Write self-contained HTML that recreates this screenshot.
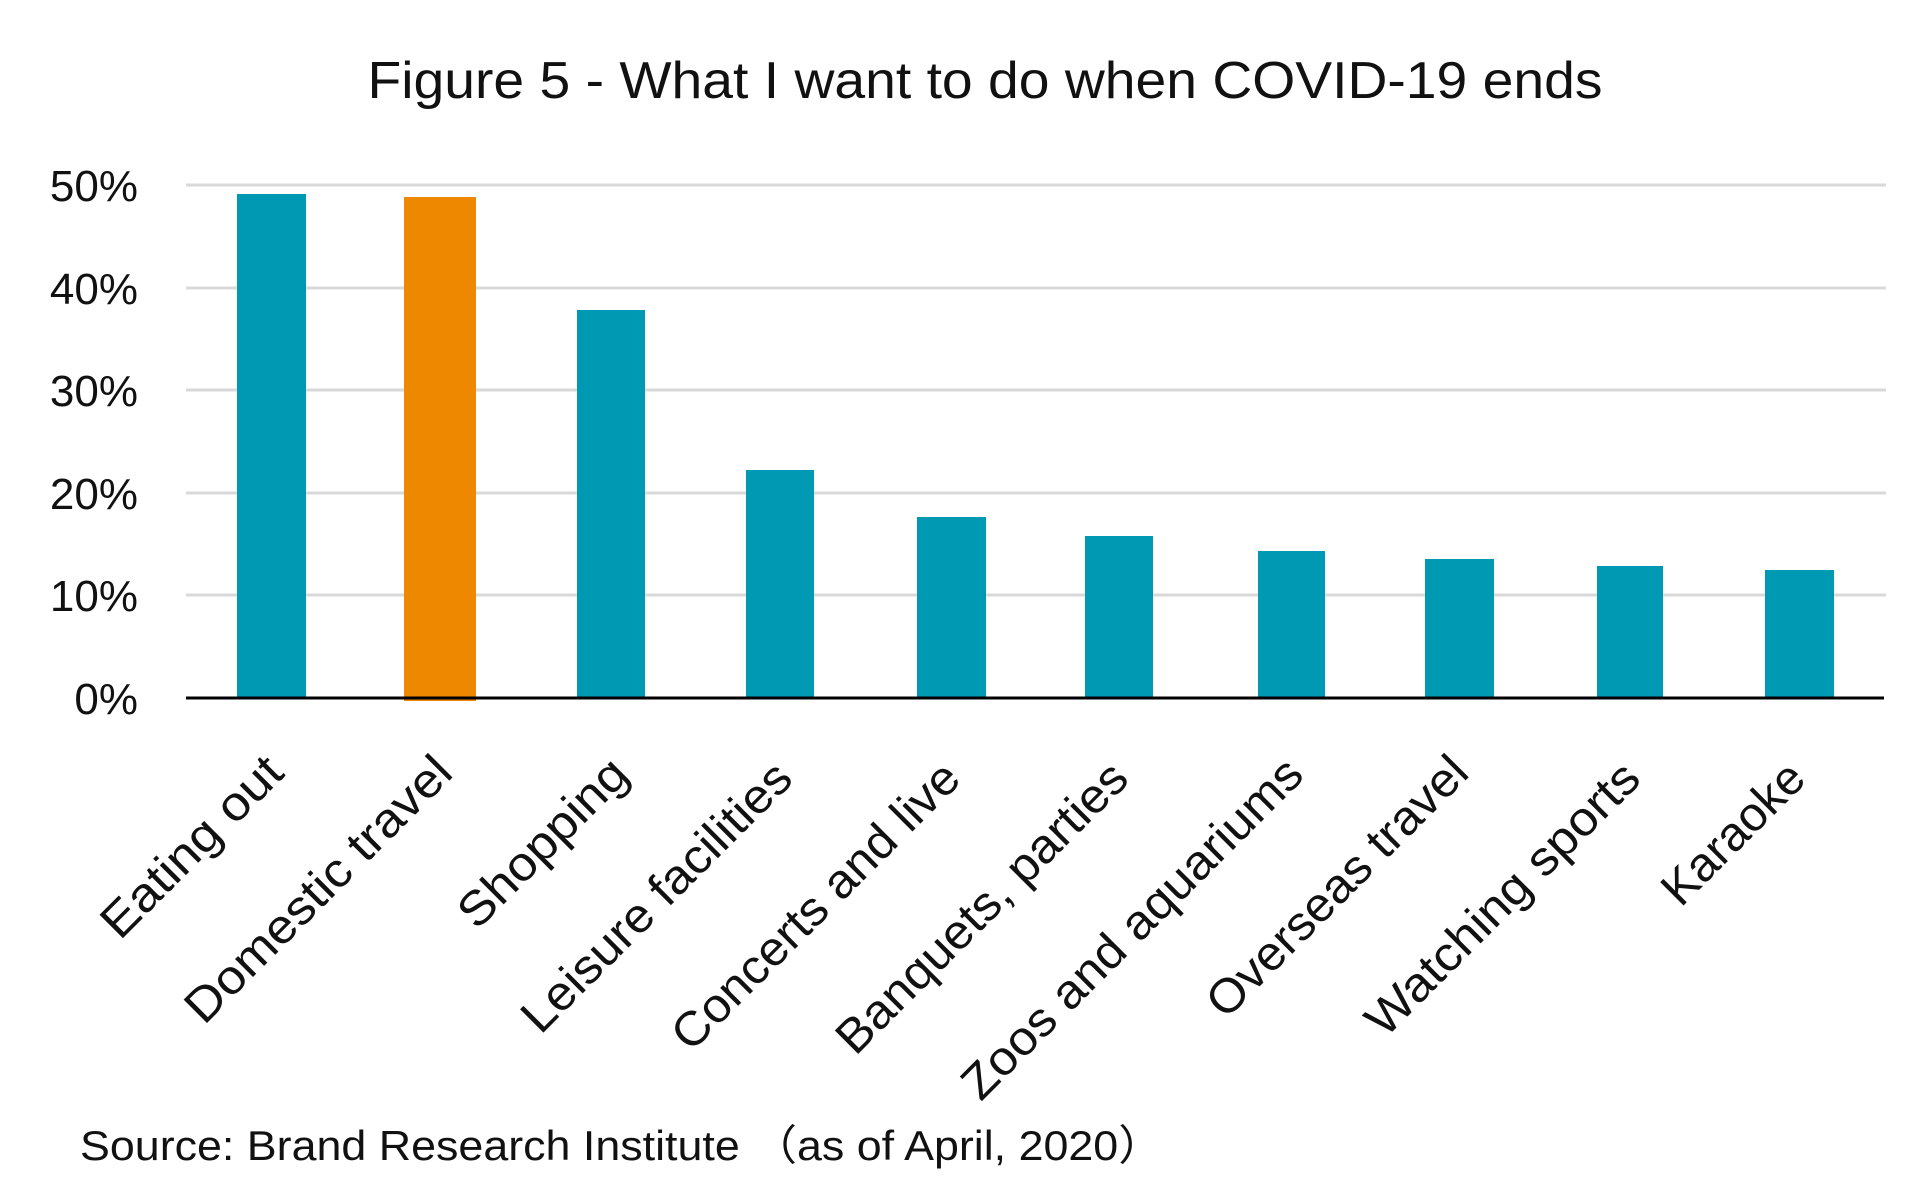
<!DOCTYPE html>
<html><head><meta charset="utf-8"><style>
html,body{margin:0;padding:0;background:#fff;}
svg{display:block;}
text{font-family:"Liberation Sans","Noto Sans CJK JP",sans-serif;fill:#111;}
</style></head><body>
<svg width="1920" height="1181" viewBox="0 0 1920 1181" xmlns="http://www.w3.org/2000/svg">
<text x="985" y="98" font-size="52" text-anchor="middle" textLength="1235" lengthAdjust="spacingAndGlyphs">Figure 5 - What I want to do when COVID-19 ends</text>
<g stroke="#d9d9d9" stroke-width="3">
<line x1="186" y1="185" x2="1886" y2="185"/>
<line x1="186" y1="288" x2="1886" y2="288"/>
<line x1="186" y1="390" x2="1886" y2="390"/>
<line x1="186" y1="493" x2="1886" y2="493"/>
<line x1="186" y1="595" x2="1886" y2="595"/>
</g>
<g font-size="44" text-anchor="end">
<text x="138" y="201">50%</text>
<text x="138" y="304">40%</text>
<text x="138" y="406">30%</text>
<text x="138" y="509">20%</text>
<text x="138" y="611">10%</text>
<text x="138" y="714">0%</text>
</g>
<g fill="#0099b3">
<rect x="237" y="194" width="69" height="504"/>
<rect x="577" y="310" width="68" height="388"/>
<rect x="746" y="470" width="68" height="228"/>
<rect x="917" y="517" width="69" height="181"/>
<rect x="1085" y="536" width="68" height="162"/>
<rect x="1258" y="551" width="67" height="147"/>
<rect x="1425" y="559" width="69" height="139"/>
<rect x="1597" y="566" width="66" height="132"/>
<rect x="1765" y="570" width="69" height="128"/>
</g>
<rect x="404" y="197" width="72" height="504" fill="#ee8800"/>
<line x1="186" y1="698" x2="1884" y2="698" stroke="#000" stroke-width="3"/>
<g font-size="48" text-anchor="end">
<text transform="translate(286,775) rotate(-45)" textLength="235" lengthAdjust="spacingAndGlyphs">Eating out</text>
<text transform="translate(455,775) rotate(-45)" textLength="355" lengthAdjust="spacingAndGlyphs">Domestic travel</text>
<text transform="translate(631,777) rotate(-45)" textLength="218" lengthAdjust="spacingAndGlyphs">Shopping</text>
<text transform="translate(795,781) rotate(-45)" textLength="360" lengthAdjust="spacingAndGlyphs">Leisure facilities</text>
<text transform="translate(963,781) rotate(-45)" textLength="385" lengthAdjust="spacingAndGlyphs">Concerts and live</text>
<text transform="translate(1131,781) rotate(-45)" textLength="390" lengthAdjust="spacingAndGlyphs">Banquets, parties</text>
<text transform="translate(1306,777) rotate(-45)" textLength="460" lengthAdjust="spacingAndGlyphs">Zoos and aquariums</text>
<text transform="translate(1471,775) rotate(-45)" textLength="347" lengthAdjust="spacingAndGlyphs">Overseas travel</text>
<text transform="translate(1643,781) rotate(-45)" textLength="365" lengthAdjust="spacingAndGlyphs">Watching sports</text>
<text transform="translate(1808,781) rotate(-45)" textLength="180" lengthAdjust="spacingAndGlyphs">Karaoke</text>
</g>
<text x="80" y="1160" font-size="42" textLength="1083" lengthAdjust="spacingAndGlyphs">Source: Brand Research Institute （as of April, 2020）</text>
</svg>
</body></html>
